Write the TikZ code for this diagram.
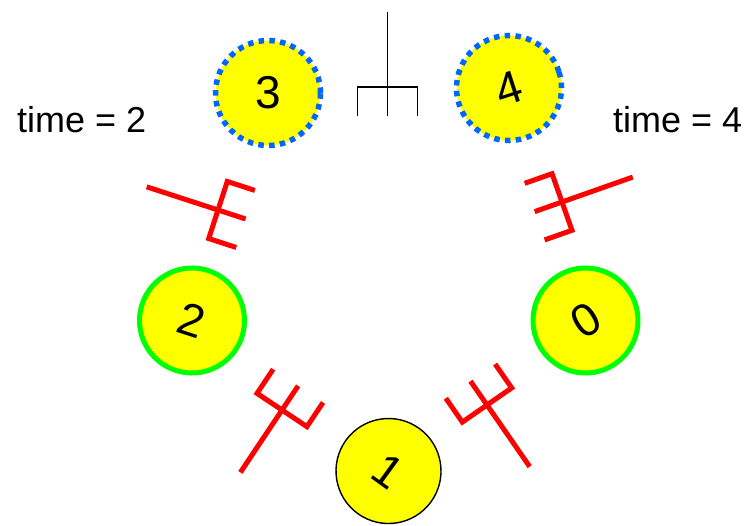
\documentclass[tikz,border=0pt]{standalone}
\usepackage{fontspec}
\setmainfont{Liberation Sans}
\definecolor{phyellow}{RGB}{255,255,0}
\definecolor{phgreen}{RGB}{0,255,0}
\definecolor{phblue}{RGB}{0,102,255}
\definecolor{phred}{RGB}{255,0,0}
\begin{document}
\begin{tikzpicture}[x=1pt,y=-1pt,
  phil/.style={circle, fill=phyellow, minimum size=105pt, inner sep=0pt, font=\fontsize{46}{46}\selectfont},
  eating/.style={phil, draw=phgreen, line width=5pt},
  waiting/.style={phil, draw=phblue, line width=5.5pt, dash pattern=on 5.5pt off 5.3pt},
  thinking/.style={phil, draw=black, line width=1.4pt},
  redfork/.style={draw=phred, line width=5pt},
  blackfork/.style={draw=black, line width=1.7pt},
  timelabel/.style={font=\fontsize{36}{36}\selectfont, anchor=base west, inner sep=0pt},
  pics/fork/.style={code={
    \draw[#1] (-75,0) -- (29,0);
    \draw[#1] (29,-30) -- (0,-30) -- (0,30) -- (29,30);}}
]
\useasboundingbox (0,0) rectangle (751,525);

% philosophers
\node[waiting, rotate=0]   (p3) at (268,93)  {3};
\node[waiting, rotate=18]  (p4) at (509,88)  {4};
\node[eating,  rotate=-18] (p2) at (192,320.5) {2};
\node[eating,  rotate=32]  (p0) at (585.5,320.5) {0};
\node[thinking,rotate=-36] (p1) at (388.5,471) {1};

% forks
\pic[rotate=-90]   at (387.5,87)  {fork=blackfork};
\pic[rotate=-18]   at (218,210)   {fork=redfork};
\pic[rotate=199.4] at (562,202)   {fork=redfork};
\pic[rotate=56.3]  at (282,410)   {fork=redfork};
\pic[rotate=124.7] at (487,405)   {fork=redfork};

% labels
\node[timelabel] (t2) at (17,132)  {time = 2};
\node[timelabel] (t4) at (613,132) {time = 4};
\end{tikzpicture}
\end{document}
